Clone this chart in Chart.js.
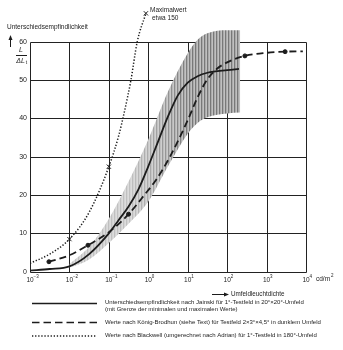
<!DOCTYPE html>
<html>
<head>
<meta charset="utf-8">
<script src="https://cdn.jsdelivr.net/npm/chart.js@4.4.1/dist/chart.umd.min.js"></script>
<style>
  html, body { margin: 0; padding: 0; background: #fff; }
  #wrap { width: 343px; height: 350px; position: relative; }
</style>
</head>
<body>
<div id="wrap"><canvas id="chart"></canvas></div>
<script>
// x values are log10 of the surround luminance (cd/m²), y values are L/ΔL
const xTickExp = [-3, -2, -1, 0, 1, 2, 3, 4];
const yTicks = [0, 10, 20, 30, 40, 50, 60];

// Jainski, 1° test field in 20°x20° surround
const jainskiExp = [-3, -2.5, -2, -1.5, -1, -0.75, -0.5, -0.25, 0, 0.25, 0.5, 0.75, 1, 1.25, 1.5, 2, 2.3];
const jainskiVal = [0.3, 0.7, 1.4, 4.6, 10, 13.5, 17, 21.5, 27.5, 34, 40.5, 46, 49.3, 51, 51.9, 52.6, 52.9];

// spread of Jainski's measurements (min / max)
const bandExp = [-2, -1.5, -1, -0.5, 0, 0.5, 1, 1.25, 1.5, 2, 2.33];
const bandMax = [2.0, 6.5, 13.8, 23.5, 34.5, 47, 57, 60.5, 62.2, 63, 63];
const bandMin = [1.0, 3.2, 7.5, 12.5, 18.3, 27.5, 36, 38.8, 40.3, 41.3, 41.5];

// König-Brodhun, 2x3°x4.5° field in dark surround
const kbExp = [-2.52, -2, -1.53, -1, -0.5, -0.1, 0.2, 0.55, 1, 1.25, 1.5, 1.75, 2, 2.45, 3, 3.47, 3.92];
const kbVal = [2.6, 4.3, 6.9, 10.3, 15, 20, 24, 30, 39.5, 45.5, 50.2, 53, 54.6, 56.3, 57.1, 57.4, 57.5];
const kbMarkExp = [-2.52, -1.53, -0.5, 2.45, 3.47];
const kbMarkVal = [2.6, 6.9, 15, 56.3, 57.4];

// Blackwell (converted by Adrian), 1° field in 180° surround
const bwExp = [-3, -2.5, -2, -1.5, -1, -0.75, -0.6, -0.44, -0.28, -0.06];
const bwVal = [2.2, 4.6, 8.5, 15.5, 27.4, 35.5, 42, 50, 60, 67.4];
const bwMarkExp = [-2, -1, -0.06];
const bwMarkVal = [8.5, 27.4, 67.4];

const pts = (exps, vals) => exps.map((e, i) => ({ x: Math.pow(10, e), y: vals[i] }));

// vertical hatching, pale on the left, denser/darker to the right
function makeHatch() {
  const c = document.createElement('canvas');
  c.width = 343; c.height = 4;
  const g = c.getContext('2d');
  for (let x = 0; x < 343; x++) {
    const t = Math.min(1, Math.max(0, (x - 130) / 60));
    let v;
    if (x % 3 === 0) v = 192 - 72 * t;
    else if (x % 3 === 1) v = 212 - 42 * t;
    else v = 220 - 28 * t;
    v = Math.round(v);
    g.fillStyle = `rgb(${v},${v},${v})`;
    g.fillRect(x, 0, 1, 4);
  }
  return g.createPattern(c, 'repeat');
}

const FONT = "'Liberation Sans', Arial, sans-serif";
const INK = '#1c1c1c';

const gridPlugin = {
  id: 'grid',
  beforeDatasetsDraw(chart) {
    const { ctx, scales: { x, y } } = chart;
    const left = Math.round(x.getPixelForValue(1e-3)) + 0.5;
    const right = Math.round(x.getPixelForValue(1e4)) + 0.5;
    const top = Math.round(y.getPixelForValue(60)) + 0.5;
    const bottom = Math.round(y.getPixelForValue(0)) + 0.5;
    ctx.save();
    ctx.strokeStyle = '#222';
    ctx.lineWidth = 1;
    ctx.beginPath();
    yTicks.forEach(v => {
      const py = Math.round(y.getPixelForValue(v)) + 0.5;
      ctx.moveTo(left, py); ctx.lineTo(right, py);
    });
    xTickExp.forEach(e => {
      const px = Math.round(x.getPixelForValue(Math.pow(10, e))) + 0.5;
      ctx.moveTo(px, top); ctx.lineTo(px, bottom);
    });
    ctx.stroke();
    ctx.restore();
  }
};

const textPlugin = {
  id: 'texts',
  afterDraw(chart) {
    const { ctx, scales: { x } } = chart;
    ctx.save();
    ctx.fillStyle = INK;
    ctx.strokeStyle = INK;
    ctx.textBaseline = 'middle';

    // y axis title and arrow
    ctx.font = `6.5px ${FONT}`;
    ctx.textAlign = 'left';
    ctx.fillText('Unterschiedsempfindlichkeit', 7, 27, 85);
    ctx.lineWidth = 1;
    ctx.beginPath(); ctx.moveTo(10.5, 47); ctx.lineTo(10.5, 38); ctx.stroke();
    ctx.beginPath(); ctx.moveTo(10.5, 35); ctx.lineTo(8.5, 40); ctx.lineTo(12.5, 40); ctx.closePath(); ctx.fill();

    // L / ΔL_t
    ctx.textAlign = 'center';
    ctx.font = `italic 7px ${FONT}`;
    ctx.fillText('L', 21, 50);
    ctx.beginPath(); ctx.moveTo(16, 55.5); ctx.lineTo(27, 55.5); ctx.stroke();
    ctx.fillText('ΔL', 20.5, 61);
    ctx.font = `5px ${FONT}`;
    ctx.fillText('t', 26.5, 63);

    // x tick labels 10^n
    xTickExp.forEach(e => {
      const px = x.getPixelForValue(Math.pow(10, e));
      ctx.font = `6.5px ${FONT}`;
      ctx.textAlign = 'center';
      ctx.fillText('10', px, 280);
      ctx.font = `4.5px ${FONT}`;
      ctx.textAlign = 'left';
      ctx.fillText(String(e).replace('-', '−'), px + 3.5, 276.5);
    });
    ctx.font = `6.5px ${FONT}`;
    ctx.textAlign = 'left';
    ctx.fillText('cd/m', 316, 279);
    ctx.font = `4.5px ${FONT}`;
    ctx.fillText('2', 331, 276);

    // axis caption with arrow
    ctx.font = `6.3px ${FONT}`;
    ctx.beginPath(); ctx.moveTo(212, 294.5); ctx.lineTo(226, 294.5); ctx.stroke();
    ctx.beginPath(); ctx.moveTo(229, 294.5); ctx.lineTo(224, 292.5); ctx.lineTo(224, 296.5); ctx.closePath(); ctx.fill();
    ctx.fillText('Umfeldleuchtdichte', 231, 294.5, 58);

    // maximum note for the Blackwell curve
    ctx.font = `6.5px ${FONT}`;
    ctx.fillText('Maximalwert', 150, 10, 42);
    ctx.fillText('etwa 150', 152, 18, 27);

    // legend
    ctx.lineWidth = 1.6;
    ctx.beginPath(); ctx.moveTo(32, 303.5); ctx.lineTo(97, 303.5); ctx.stroke();
    ctx.setLineDash([7.5, 4]);
    ctx.beginPath(); ctx.moveTo(32, 322.5); ctx.lineTo(97, 322.5); ctx.stroke();
    ctx.lineWidth = 1.3;
    ctx.setLineDash([1.3, 1.8]);
    ctx.beginPath(); ctx.moveTo(32, 336); ctx.lineTo(97, 336); ctx.stroke();
    ctx.setLineDash([]);

    ctx.font = `6px ${FONT}`;
    ctx.fillText('Unterschiedsempfindlichkeit nach Jainski für 1°-Testfeld in 20°×20°-Umfeld', 105, 302, 218);
    ctx.fillText('(mit Grenze der minimalen und maximalen Werte)', 105, 309.5, 145);
    ctx.fillText('Werte nach König-Brodhun (siehe Text) für Testfeld 2×3°×4,5° in dunklem Umfeld', 105, 322.5, 219);
    ctx.fillText('Werte nach Blackwell (umgerechnet nach Adrian) für 1°-Testfeld in 180°-Umfeld', 105, 335.5, 219);
    ctx.restore();
  }
};

new Chart(document.getElementById('chart'), {
  type: 'line',
  data: {
    datasets: [
      {
        label: 'Grenze max', data: pts(bandExp, bandMax),
        borderWidth: 0, borderColor: 'rgba(0,0,0,0)', pointRadius: 0, fill: false,
        cubicInterpolationMode: 'monotone', order: 10
      },
      {
        label: 'Grenze min', data: pts(bandExp, bandMin),
        borderWidth: 0, borderColor: 'rgba(0,0,0,0)', pointRadius: 0, fill: '-1',
        backgroundColor: makeHatch(), cubicInterpolationMode: 'monotone', order: 10
      },
      {
        label: 'Jainski', data: pts(jainskiExp, jainskiVal),
        borderColor: INK, borderWidth: 1.8, pointRadius: 0,
        cubicInterpolationMode: 'monotone', order: 2
      },
      {
        label: 'König-Brodhun', data: pts(kbExp, kbVal),
        borderColor: INK, borderWidth: 1.8, borderDash: [7, 4], pointRadius: 0,
        cubicInterpolationMode: 'monotone', order: 2
      },
      {
        label: 'Blackwell', data: pts(bwExp, bwVal),
        borderColor: INK, borderWidth: 1.5, borderDash: [1.3, 1.8], pointRadius: 0,
        cubicInterpolationMode: 'monotone', order: 2
      },
      {
        label: 'König-Brodhun Punkte', data: pts(kbMarkExp, kbMarkVal), showLine: false,
        pointRadius: 2, pointBackgroundColor: INK, pointBorderColor: INK, order: 1
      },
      {
        label: 'Blackwell Punkte', data: pts(bwMarkExp, bwMarkVal), showLine: false,
        pointStyle: 'crossRot', pointRadius: 3, pointBorderWidth: 1, pointBorderColor: INK, order: 1
      }
    ]
  },
  options: {
    responsive: true,
    maintainAspectRatio: false,
    animation: false,
    layout: { padding: { top: 2.6, right: 37, left: 0, bottom: 0 } },
    plugins: { legend: { display: false }, tooltip: { enabled: false } },
    scales: {
      x: {
        type: 'logarithmic', min: 1e-3, max: 1e4,
        grid: { display: false }, border: { display: false },
        ticks: { display: false },
        afterFit: s => { s.height = 78.3; }
      },
      y: {
        min: 0, max: 69,
        grid: { display: false, drawTicks: false }, border: { display: false },
        ticks: { color: INK, padding: 3, font: { family: FONT, size: 7 } },
        afterBuildTicks: s => { s.ticks = yTicks.map(v => ({ value: v })); },
        afterFit: s => { s.width = 30; }
      }
    }
  },
  plugins: [gridPlugin, textPlugin]
});
</script>
</body>
</html>
